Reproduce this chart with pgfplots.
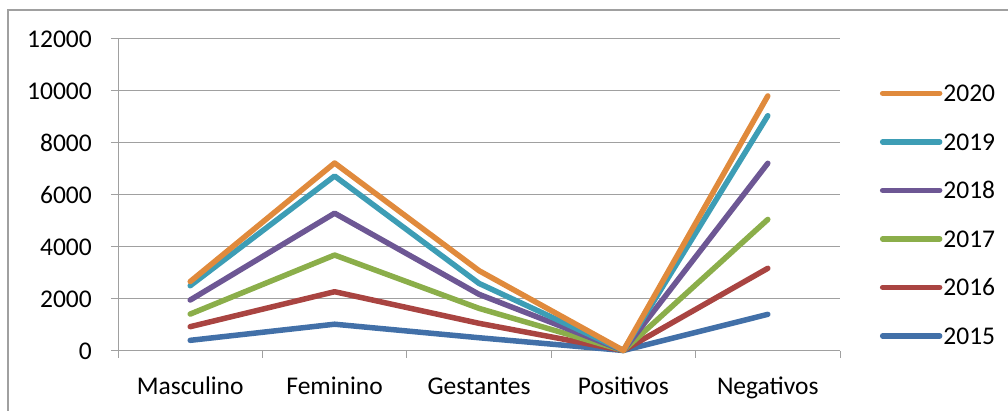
\documentclass[border=0pt]{standalone}
\usepackage{pgfplots}
\pgfplotsset{compat=1.18}
\usepackage{fontspec}
\setmainfont{Carlito}
\definecolor{c2015}{HTML}{4270A8}
\definecolor{c2016}{HTML}{A94441}
\definecolor{c2017}{HTML}{8BAE4A}
\definecolor{c2018}{HTML}{6D5794}
\definecolor{c2019}{HTML}{3D9DB5}
\definecolor{c2020}{HTML}{E08A3C}
\definecolor{gridg}{HTML}{A0A0A0}
\begin{document}
\begin{tikzpicture}[x=1pt,y=1pt,font=\fontsize{25.5}{30}\selectfont]
\useasboundingbox (0,0) rectangle (1008,411);
\draw[gridg, line width=1.3pt] (8,-30) -- (8,401) -- (1040,401);
\begin{axis}[
  at={(118pt,60pt)}, anchor=south west,
  scale only axis, width=722pt, height=312pt,
  xmin=-0.5, xmax=4.5, ymin=0, ymax=12000,
  axis x line=bottom, axis y line=left,
  axis line style={gridg, line width=1pt, -},
  tick align=outside,
  major tick length=7pt,
  tick style={gridg, line width=1pt},
  xtick={-0.5,0.5,1.5,2.5,3.5,4.5},
  xticklabels={},
  extra x ticks={0,1,2,3,4},
  extra x tick labels={Masculino,Feminino,Gestantes,Positivos,Negativos},
  extra x tick style={major tick length=0pt, grid=none},
  xticklabel style={anchor=north, inner sep=0pt, text height=16.4pt, text depth=0pt, yshift=-27pt},
  ytick={0,2000,...,12000},
  scaled y ticks=false,
  yticklabel style={anchor=east, inner sep=0pt, xshift=-19pt, /pgf/number format/fixed, /pgf/number format/precision=0},
  /pgf/number format/assume math mode=true,
  /pgf/number format/1000 sep={},
  ymajorgrids, grid style={gridg, line width=1pt},
  every axis plot/.append style={line width=5.5pt, line cap=round, line join=round},
  reverse legend,
  legend cell align=left,
  legend style={draw=none, fill=none, at={(1.055,0.857)}, anchor=north west,
    inner sep=0pt, row sep=29.5pt,
    nodes={inner sep=1pt, text height=17pt, text depth=0pt}},
  legend image code/.code={\draw[line width=5.5pt, line cap=round] (0pt,0pt) -- (57pt,0pt);},
  clip=false,
]
\addplot[c2015] coordinates {(0,410) (1,1030) (2,510) (3,20) (4,1410)};
\addlegendentry{2015}
\addplot[c2016] coordinates {(0,935) (1,2280) (2,1065) (3,20) (4,3180)};
\addlegendentry{2016}
\addplot[c2017] coordinates {(0,1420) (1,3690) (2,1640) (3,20) (4,5060)};
\addlegendentry{2017}
\addplot[c2018] coordinates {(0,1960) (1,5300) (2,2180) (3,20) (4,7220)};
\addlegendentry{2018}
\addplot[c2019] coordinates {(0,2510) (1,6730) (2,2600) (3,20) (4,9050)};
\addlegendentry{2019}
\addplot[c2020] coordinates {(0,2670) (1,7230) (2,3090) (3,20) (4,9810)};
\addlegendentry{2020}
\end{axis}
\end{tikzpicture}
\end{document}
